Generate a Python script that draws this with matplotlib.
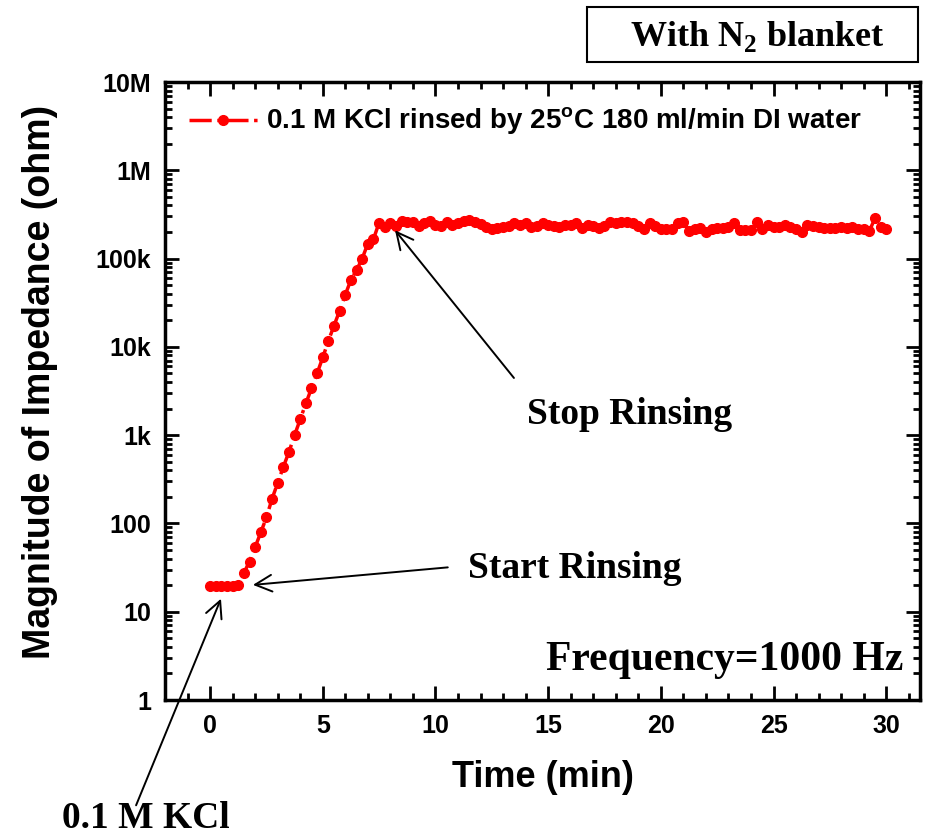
import numpy as np
import matplotlib
matplotlib.use("Agg")
import matplotlib.pyplot as plt
from matplotlib.ticker import FixedLocator, LogLocator, NullFormatter, MultipleLocator
from matplotlib.patches import Rectangle

plt.rcParams['font.family'] = ['Liberation Sans', 'DejaVu Sans']
plt.rcParams['mathtext.fontset'] = 'custom'
plt.rcParams['mathtext.bf'] = 'Liberation Serif:bold'
plt.rcParams['mathtext.sf'] = 'Liberation Sans:bold'

# sampling every 15 s
time_min = np.arange(0, 30.01, 0.25)

# before rinsing (0 - 1.25 min)
z_start = [19.5, 19.5, 19.5, 19.5, 19.5, 20]
# rinsing ramp (1.5 - 7.25 min)
z_ramp = [27.5, 37, 54, 79, 117, 190, 288, 436, 646, 1000, 1510, 2290,
          3390, 5010, 7590, 11700, 17400, 25700, 38900, 57500, 74100,
          100000, 148000, 166000]
# after rinsing stopped (7.5 - 30 min), in k-ohm
z_plateau_k = [255, 229, 250, 235, 267, 261, 258, 235, 250, 267, 240, 235,
               258, 240, 250, 265, 273, 258, 245, 229, 216, 220, 229, 235,
               250, 240, 250, 229, 235, 250, 243, 235, 229, 239, 243, 250,
               224, 243, 235, 224, 235, 261, 250, 261, 261, 250, 235, 219,
               250, 235, 219, 216, 219, 250, 261, 205, 216, 224, 198, 215,
               224, 224, 229, 250, 211, 211, 211, 261, 216, 243, 229, 229,
               239, 229, 219, 201, 243, 235, 229, 224, 224, 224, 229, 224,
               229, 219, 216, 205, 285, 229, 216]

impedance = np.array(z_start + z_ramp + [v * 1000 for v in z_plateau_k])

y_ticks = [1, 10, 100, 1e3, 1e4, 1e5, 1e6, 1e7]
y_labels = ['1', '10', '100', '1k', '10k', '100k', '1M', '10M']
x_ticks = [0, 5, 10, 15, 20, 25, 30]

fig = plt.figure(figsize=(9.34, 8.35), dpi=100)
ax = fig.add_axes([165/934, 1 - 700/835, (920-165)/934, (700-82)/835])

ax.plot(time_min, impedance, color='red', linestyle='-.', linewidth=2.5,
        marker='o', markersize=7,
        label='0.1 M KCl rinsed by 25$^{\\mathsf{o}}$C 180 ml/min DI water')

ax.set_yscale('log')
ax.set_ylim(1, 1e7)
ax.set_xlim(-2, 31.5)
ax.yaxis.set_major_locator(FixedLocator(y_ticks))
ax.set_yticklabels(y_labels)
ax.yaxis.set_minor_locator(LogLocator(base=10, subs=np.arange(2, 10)))
ax.yaxis.set_minor_formatter(NullFormatter())
ax.set_xticks(x_ticks)
ax.xaxis.set_minor_locator(MultipleLocator(1))

ax.tick_params(which='both', direction='in', top=True, right=True, width=2)
ax.tick_params(which='major', length=10, labelsize=18, pad=10)
ax.tick_params(which='minor', length=5)
for lab in ax.get_xticklabels() + ax.get_yticklabels():
    lab.set_fontweight('bold')
for sp in ax.spines.values():
    sp.set_linewidth(2.5)

ax.set_xlabel('Time (min)', fontsize=26, fontweight='bold', labelpad=16)
ax.set_ylabel('Magnitude of Impedance (ohm)', fontsize=27, fontweight='bold')
ax.yaxis.set_label_coords(-0.142, 0.515)

leg = ax.legend(loc='upper left', frameon=False, handlelength=2.5, numpoints=1,
                prop={'weight': 'bold', 'size': 20}, borderaxespad=0.45,
                handletextpad=0.3)

serif = {'family': 'Liberation Serif', 'weight': 'bold'}

# arrows
arrow = dict(arrowstyle='->', color='black', linewidth=1.4, mutation_scale=30)
ax.annotate('', xy=(8.13, 2.21e5), xytext=(13.56, 4200), arrowprops=arrow)
ax.annotate('', xy=(1.78, 20), xytext=(10.67, 32), arrowprops=arrow)
ax.annotate('', xy=(0.53, 15), xytext=(-3.33, 0.06), arrowprops=arrow,
            annotation_clip=False)

fig.text(630/934, 1 - 415/835, 'Stop Rinsing', fontdict=serif, fontsize=27,
         ha='center', va='center')
fig.text(575/934, 1 - 568/835, 'Start Rinsing', fontdict=serif, fontsize=27,
         ha='center', va='center')
fig.text(725/934, 1 - 660/835, 'Frequency=1000 Hz', fontdict=serif, fontsize=30,
         ha='center', va='center')
fig.text(146/934, 1 - 818/835, '0.1 M KCl', fontdict=serif, fontsize=27,
         ha='center', va='center')

# title box
fig.patches.append(Rectangle((587/934, 1 - 62/835), (918-587)/934, 55/835,
                             transform=fig.transFigure, fill=False,
                             edgecolor='black', linewidth=1.5))
fig.text(757/934, 1 - 37/835, 'With N$_{\\mathbf{2}}$ blanket', fontdict=serif,
         fontsize=26, ha='center', va='center')

fig.savefig('out.png', dpi=100)
